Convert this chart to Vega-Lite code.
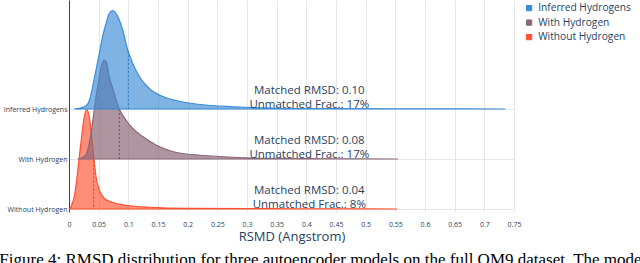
{
  "$schema": "https://vega.github.io/schema/vega-lite/v6.json",
  "width": 445,
  "height": 212,
  "autosize": {"type": "none"},
  "padding": {"left": 69, "top": 0, "right": 126, "bottom": 51},
  "background": "white",
  "title": {
    "text": "Figure 4: RMSD distribution for three autoencoder models on the full QM9 dataset. The models",
    "orient": "bottom", "anchor": "start", "frame": "bounds",
    "font": "Liberation Serif", "fontSize": 17, "fontWeight": "normal", "color": "#000000",
    "offset": 8, "dx": -4
  },
  "config": {
    "view": {"stroke": null},
    "font": "Open Sans",
    "legend": {
      "orient": "right", "offset": 7, "padding": 3, "symbolType": "square", "symbolSize": 28,
      "labelFontSize": 10.2, "labelColor": "#2a3f5f", "labelFont": "Open Sans",
      "rowPadding": 3.5, "labelOffset": 4, "symbolStrokeWidth": 1
    }
  },
  "datasets": {
    "density": [
      {"model": "Inferred Hydrogens", "x": 0.0089, "d": 0},
      {"model": "Inferred Hydrogens", "x": 0.0174, "d": 0.14},
      {"model": "Inferred Hydrogens", "x": 0.0287, "d": 0.6},
      {"model": "Inferred Hydrogens", "x": 0.0354, "d": 2.1},
      {"model": "Inferred Hydrogens", "x": 0.04, "d": 4.5},
      {"model": "Inferred Hydrogens", "x": 0.0455, "d": 7.8},
      {"model": "Inferred Hydrogens", "x": 0.0511, "d": 11.1},
      {"model": "Inferred Hydrogens", "x": 0.0568, "d": 14.5},
      {"model": "Inferred Hydrogens", "x": 0.0624, "d": 17.1},
      {"model": "Inferred Hydrogens", "x": 0.0679, "d": 19.1},
      {"model": "Inferred Hydrogens", "x": 0.0737, "d": 19.7},
      {"model": "Inferred Hydrogens", "x": 0.0821, "d": 18.5},
      {"model": "Inferred Hydrogens", "x": 0.0905, "d": 15.8},
      {"model": "Inferred Hydrogens", "x": 0.0989, "d": 11.8},
      {"model": "Inferred Hydrogens", "x": 0.1074, "d": 9.1},
      {"model": "Inferred Hydrogens", "x": 0.1185, "d": 6.5},
      {"model": "Inferred Hydrogens", "x": 0.1353, "d": 4.1},
      {"model": "Inferred Hydrogens", "x": 0.1579, "d": 2.5},
      {"model": "Inferred Hydrogens", "x": 0.1803, "d": 1.7},
      {"model": "Inferred Hydrogens", "x": 0.1972, "d": 1.3},
      {"model": "Inferred Hydrogens", "x": 0.2208, "d": 0.9},
      {"model": "Inferred Hydrogens", "x": 0.2764, "d": 0.45},
      {"model": "Inferred Hydrogens", "x": 0.334, "d": 0.2},
      {"model": "Inferred Hydrogens", "x": 0.44, "d": 0.08},
      {"model": "Inferred Hydrogens", "x": 0.558, "d": 0.04},
      {"model": "Inferred Hydrogens", "x": 0.735, "d": 0},
      {"model": "With Hydrogen", "x": 0.0147, "d": 0},
      {"model": "With Hydrogen", "x": 0.0258, "d": 0.5},
      {"model": "With Hydrogen", "x": 0.0315, "d": 1.8},
      {"model": "With Hydrogen", "x": 0.0371, "d": 5.1},
      {"model": "With Hydrogen", "x": 0.0426, "d": 9.9},
      {"model": "With Hydrogen", "x": 0.0455, "d": 12.4},
      {"model": "With Hydrogen", "x": 0.0511, "d": 16.4},
      {"model": "With Hydrogen", "x": 0.0556, "d": 19.0},
      {"model": "With Hydrogen", "x": 0.0595, "d": 19.8},
      {"model": "With Hydrogen", "x": 0.0632, "d": 19.3},
      {"model": "With Hydrogen", "x": 0.0679, "d": 16.4},
      {"model": "With Hydrogen", "x": 0.0763, "d": 13.1},
      {"model": "With Hydrogen", "x": 0.0848, "d": 10.0},
      {"model": "With Hydrogen", "x": 0.0961, "d": 7.8},
      {"model": "With Hydrogen", "x": 0.1074, "d": 6.1},
      {"model": "With Hydrogen", "x": 0.1242, "d": 4.5},
      {"model": "With Hydrogen", "x": 0.1466, "d": 2.8},
      {"model": "With Hydrogen", "x": 0.1748, "d": 1.5},
      {"model": "With Hydrogen", "x": 0.1972, "d": 1.0},
      {"model": "With Hydrogen", "x": 0.2208, "d": 0.75},
      {"model": "With Hydrogen", "x": 0.2764, "d": 0.35},
      {"model": "With Hydrogen", "x": 0.334, "d": 0.15},
      {"model": "With Hydrogen", "x": 0.44, "d": 0.05},
      {"model": "With Hydrogen", "x": 0.5545, "d": 0},
      {"model": "Without Hydrogen", "x": 0.001, "d": 0},
      {"model": "Without Hydrogen", "x": 0.0034, "d": 0.5},
      {"model": "Without Hydrogen", "x": 0.0089, "d": 2.5},
      {"model": "Without Hydrogen", "x": 0.013, "d": 5.8},
      {"model": "Without Hydrogen", "x": 0.0174, "d": 10.5},
      {"model": "Without Hydrogen", "x": 0.0219, "d": 15.1},
      {"model": "Without Hydrogen", "x": 0.0258, "d": 18.5},
      {"model": "Without Hydrogen", "x": 0.0298, "d": 19.9},
      {"model": "Without Hydrogen", "x": 0.0342, "d": 18.5},
      {"model": "Without Hydrogen", "x": 0.0388, "d": 13.8},
      {"model": "Without Hydrogen", "x": 0.0416, "d": 10.5},
      {"model": "Without Hydrogen", "x": 0.0455, "d": 6.5},
      {"model": "Without Hydrogen", "x": 0.0511, "d": 3.8},
      {"model": "Without Hydrogen", "x": 0.0595, "d": 2.1},
      {"model": "Without Hydrogen", "x": 0.0737, "d": 1.3},
      {"model": "Without Hydrogen", "x": 0.0961, "d": 0.75},
      {"model": "Without Hydrogen", "x": 0.1353, "d": 0.35},
      {"model": "Without Hydrogen", "x": 0.1972, "d": 0.15},
      {"model": "Without Hydrogen", "x": 0.334, "d": 0.07},
      {"model": "Without Hydrogen", "x": 0.44, "d": 0.04},
      {"model": "Without Hydrogen", "x": 0.553, "d": 0}
    ],
    "medians": [
      {"model": "Inferred Hydrogens", "x": 0.1, "d": 11.6},
      {"model": "With Hydrogen", "x": 0.0848, "d": 10.0},
      {"model": "Without Hydrogen", "x": 0.0416, "d": 10.5}
    ],
    "notes": [
      {"model": "Inferred Hydrogens", "label": "Matched RMSD: 0.10\nUnmatched Frac.: 17%"},
      {"model": "With Hydrogen", "label": "Matched RMSD: 0.08\nUnmatched Frac.: 17%"},
      {"model": "Without Hydrogen", "label": "Matched RMSD: 0.04\nUnmatched Frac.: 8%"}
    ]
  },
  "layer": [
    {
      "layer": [
        {
          "data": {"name": "density"},
          "transform": [{"filter": "datum.model === 'Without Hydrogen'"}],
          "mark": {"type": "area", "interpolate": "monotone", "fillOpacity": 0.65, "strokeWidth": 1.2},
          "encoding": {
            "x": {
              "field": "x", "type": "quantitative",
              "scale": {"domain": [0, 0.75], "nice": false, "zero": false},
              "axis": {
                "values": [0, 0.05, 0.1, 0.15, 0.2, 0.25, 0.3, 0.35, 0.4, 0.45, 0.5, 0.55, 0.6, 0.65, 0.7, 0.75],
                "tickCount": 20,
                "format": "~g", "grid": true, "gridColor": "#e6e6e6", "domain": false, "ticks": false,
                "labelFontSize": 7, "labelColor": "#2a3f5f", "labelPadding": 8, "labelFlush": false, "labelOverlap": false, "labelBound": false,
                "title": "RSMD (Angstrom)", "titleFontSize": 13, "titleFontWeight": "normal", "titleColor": "#2a3f5f", "titlePadding": 3.5
              }
            },
            "y": {"field": "d", "type": "quantitative", "scale": {"domain": [-0.6, 41.8], "nice": false, "zero": false}, "axis": null},
            "y2": {"datum": 0},
            "color": {"field": "model", "type": "nominal", "scale": {"domain": ["Inferred Hydrogens", "With Hydrogen", "Without Hydrogen"], "range": ["#3b8bd6", "#8b6878", "#ff5030"]}, "legend": {"title": null}},
            "stroke": {"field": "model", "type": "nominal", "scale": {"domain": ["Inferred Hydrogens", "With Hydrogen", "Without Hydrogen"], "range": ["#3b8bd6", "#8b6878", "#ff5030"]}, "legend": {"title": null}}
          }
        },
        {
          "data": {"name": "medians"},
          "transform": [{"filter": "datum.model === 'Without Hydrogen'"}],
          "mark": {"type": "rule", "strokeDash": [2, 2], "strokeWidth": 1, "color": "#e0401f"},
          "encoding": {
            "x": {"field": "x", "type": "quantitative", "scale": {"domain": [0, 0.75], "nice": false, "zero": false}},
            "y": {"field": "d", "type": "quantitative"},
            "y2": {"datum": 0}
          }
        },
        {
          "data": {"name": "notes"},
          "transform": [{"filter": "datum.model === 'Without Hydrogen'"}],
          "mark": {"type": "text", "lineBreak": "\n", "lineHeight": 14, "align": "center", "baseline": "middle", "fontSize": 11.5, "fill": "#2a3f5f"},
          "encoding": {
            "x": {"datum": 0.405, "scale": {"domain": [0, 0.75], "nice": false, "zero": false}},
            "y": {"datum": 3.6},
            "text": {"field": "label", "type": "nominal"}
          }
        }
      ]
    },
    {
      "layer": [
        {
          "data": {"name": "density"},
          "transform": [{"filter": "datum.model === 'With Hydrogen'"}],
          "mark": {"type": "area", "interpolate": "monotone", "fillOpacity": 0.7, "strokeWidth": 1.2},
          "encoding": {
            "x": {"field": "x", "type": "quantitative", "scale": {"domain": [0, 0.75], "nice": false, "zero": false}},
            "y": {"field": "d", "type": "quantitative", "scale": {"domain": [-10.6, 31.8], "nice": false, "zero": false}, "axis": null},
            "y2": {"datum": 0},
            "color": {"field": "model", "type": "nominal"},
            "stroke": {"field": "model", "type": "nominal"}
          }
        },
        {
          "data": {"name": "medians"},
          "transform": [{"filter": "datum.model === 'With Hydrogen'"}],
          "mark": {"type": "rule", "strokeDash": [2, 2], "strokeWidth": 1, "color": "#6a4c5a"},
          "encoding": {
            "x": {"field": "x", "type": "quantitative", "scale": {"domain": [0, 0.75], "nice": false, "zero": false}},
            "y": {"field": "d", "type": "quantitative"},
            "y2": {"datum": 0}
          }
        },
        {
          "data": {"name": "notes"},
          "transform": [{"filter": "datum.model === 'With Hydrogen'"}],
          "mark": {"type": "text", "lineBreak": "\n", "lineHeight": 14, "align": "center", "baseline": "middle", "fontSize": 11.5, "fill": "#2a3f5f"},
          "encoding": {
            "x": {"datum": 0.405, "scale": {"domain": [0, 0.75], "nice": false, "zero": false}},
            "y": {"datum": 3.6},
            "text": {"field": "label", "type": "nominal"}
          }
        }
      ]
    },
    {
      "layer": [
        {
          "data": {"name": "density"},
          "transform": [{"filter": "datum.model === 'Inferred Hydrogens'"}],
          "mark": {"type": "area", "interpolate": "monotone", "fillOpacity": 0.65, "strokeWidth": 1.2},
          "encoding": {
            "x": {"field": "x", "type": "quantitative", "scale": {"domain": [0, 0.75], "nice": false, "zero": false}},
            "y": {
              "field": "d", "type": "quantitative",
              "scale": {"domain": [-20.6, 21.8], "nice": false, "zero": false},
              "axis": {
                "orient": "left", "values": [0, -10, -20], "tickCount": 5,
                "labelExpr": "datum.value == 0 ? 'Inferred Hydrogens' : datum.value == -10 ? 'With Hydrogen' : 'Without Hydrogen'",
                "grid": true, "gridColor": "#e6e6e6", "ticks": false, "domain": true, "domainColor": "#444444", "domainWidth": 1,
                "labelFontSize": 7, "labelColor": "#2a3f5f", "labelPadding": 2, "title": null, "labelOverlap": false
              }
            },
            "y2": {"datum": 0},
            "color": {"field": "model", "type": "nominal"},
            "stroke": {"field": "model", "type": "nominal"}
          }
        },
        {
          "data": {"name": "medians"},
          "transform": [{"filter": "datum.model === 'Inferred Hydrogens'"}],
          "mark": {"type": "rule", "strokeDash": [2, 2], "strokeWidth": 1, "color": "#2a76c0"},
          "encoding": {
            "x": {"field": "x", "type": "quantitative", "scale": {"domain": [0, 0.75], "nice": false, "zero": false}},
            "y": {"field": "d", "type": "quantitative"},
            "y2": {"datum": 0}
          }
        },
        {
          "data": {"name": "notes"},
          "transform": [{"filter": "datum.model === 'Inferred Hydrogens'"}],
          "mark": {"type": "text", "lineBreak": "\n", "lineHeight": 14, "align": "center", "baseline": "middle", "fontSize": 11.5, "fill": "#2a3f5f"},
          "encoding": {
            "x": {"datum": 0.405, "scale": {"domain": [0, 0.75], "nice": false, "zero": false}},
            "y": {"datum": 3.6},
            "text": {"field": "label", "type": "nominal"}
          }
        }
      ]
    }
  ],
  "resolve": {"scale": {"y": "independent"}, "axis": {"y": "independent"}}
}
